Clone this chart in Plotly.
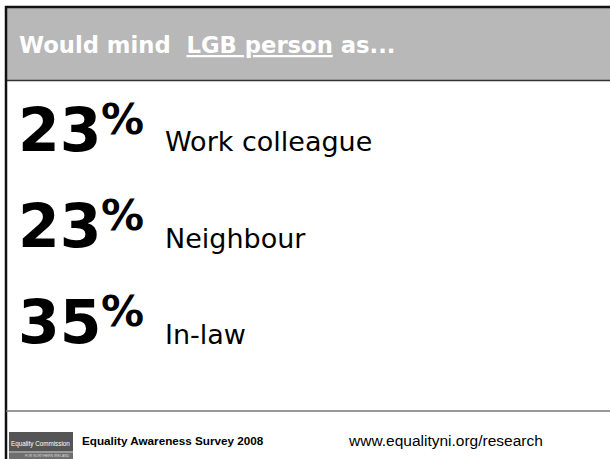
import plotly.graph_objects as go

# Data
percentages = [23, 23, 35]
labels = ["Work colleague", "Neighbour", "In-law"]
title_plain = "Would mind\u00a0\u00a0"
title_underlined = "LGB person"
title_tail = " as..."
footer_left = "Equality Awareness Survey 2008"
footer_right = "www.equalityni.org/research"
logo_text = "Equality Commission"
logo_subtext = "FOR NORTHERN IRELAND"

W, H = 610, 459

def py(y):
    # pixel (from top) to paper
    return 1 - y / H

def px(x):
    return x / W

fig = go.Figure()
shapes = []
# Header gray band
shapes.append(dict(type="rect", xref="paper", yref="paper",
                   x0=px(6), x1=1.01, y0=py(80), y1=py(7),
                   fillcolor="#b8b8b8", line=dict(width=0), layer="below"))
# top black line
shapes.append(dict(type="line", xref="paper", yref="paper",
                   x0=px(5), x1=1.01, y0=py(7), y1=py(7),
                   line=dict(color="#111111", width=2.5)))
# header bottom line
shapes.append(dict(type="line", xref="paper", yref="paper",
                   x0=px(6), x1=1.01, y0=py(80.5), y1=py(80.5),
                   line=dict(color="#333333", width=1.5)))
# left black line
shapes.append(dict(type="line", xref="paper", yref="paper",
                   x0=px(6), x1=px(6), y0=py(6), y1=-0.01,
                   line=dict(color="#111111", width=2.5)))
# footer line
shapes.append(dict(type="line", xref="paper", yref="paper",
                   x0=px(6), x1=1.01, y0=py(411), y1=py(411),
                   line=dict(color="#777777", width=1.5)))
# logo
shapes.append(dict(type="rect", xref="paper", yref="paper",
                   x0=px(9), x1=px(73), y0=py(459), y1=py(432),
                   fillcolor="#555555", line=dict(width=0)))
shapes.append(dict(type="rect", xref="paper", yref="paper",
                   x0=px(9), x1=px(73), y0=py(453), y1=py(451),
                   fillcolor="#999999", line=dict(width=0)))
shapes.append(dict(type="rect", xref="paper", yref="paper",
                   x0=px(9), x1=px(73), y0=py(459), y1=py(453),
                   fillcolor="#6e6e6e", line=dict(width=0)))

annotations = []
annotations.append(dict(
    text="<b>" + title_plain + "<u>" + title_underlined + "</u>" + title_tail + "</b>",
    x=px(17), y=py(45), xref="paper", yref="paper", xanchor="left", yanchor="middle",
    showarrow=False, font=dict(family="DejaVu Sans", size=22.7, color="white")))

row_base = 152
row_step = 96
for i, (p, lab) in enumerate(zip(percentages, labels)):
    base = row_base + i * row_step
    annotations.append(dict(
        text="<b>%d</b>" % p, x=px(16), y=py(base - 22), xref="paper", yref="paper",
        xanchor="left", yanchor="middle", showarrow=False,
        font=dict(family="DejaVu Sans", size=60, color="black")))
    annotations.append(dict(
        text="<b>%</b>", x=px(99), y=py(base - 33), xref="paper", yref="paper",
        xanchor="left", yanchor="middle", showarrow=False,
        font=dict(family="DejaVu Sans", size=43, color="black")))
    annotations.append(dict(
        text=lab, x=px(163), y=py(base - 10), xref="paper", yref="paper",
        xanchor="left", yanchor="middle", showarrow=False,
        font=dict(family="DejaVu Sans", size=27, color="black")))

annotations.append(dict(
    text="<b>" + footer_left + "</b>", x=px(80), y=py(440), xref="paper", yref="paper",
    xanchor="left", yanchor="middle", showarrow=False,
    font=dict(family="Liberation Sans", size=11.7, color="black")))
annotations.append(dict(
    text=footer_right, x=px(346), y=py(440), xref="paper", yref="paper",
    xanchor="left", yanchor="middle", showarrow=False,
    font=dict(family="Liberation Sans", size=15.5, color="black")))
annotations.append(dict(
    text=logo_text, x=px(72), y=py(444), xref="paper", yref="paper",
    xanchor="right", yanchor="middle", showarrow=False,
    font=dict(family="Liberation Sans", size=6.3, color="white")))
annotations.append(dict(
    text=logo_subtext, x=px(72), y=py(456), xref="paper", yref="paper",
    xanchor="right", yanchor="middle", showarrow=False,
    font=dict(family="Liberation Sans", size=3.5, color="#dddddd")))

fig.update_layout(
    width=W, height=H, autosize=False,
    margin=dict(l=0, r=0, t=0, b=0),
    paper_bgcolor="white", plot_bgcolor="white",
    xaxis=dict(visible=False, range=[0, 1]),
    yaxis=dict(visible=False, range=[0, 1]),
    shapes=shapes, annotations=annotations, showlegend=False,
)
fig.write_html("out.html", config={"displayModeBar": False},
               post_script="document.body.style.margin='0px';document.body.style.overflow='hidden';")
